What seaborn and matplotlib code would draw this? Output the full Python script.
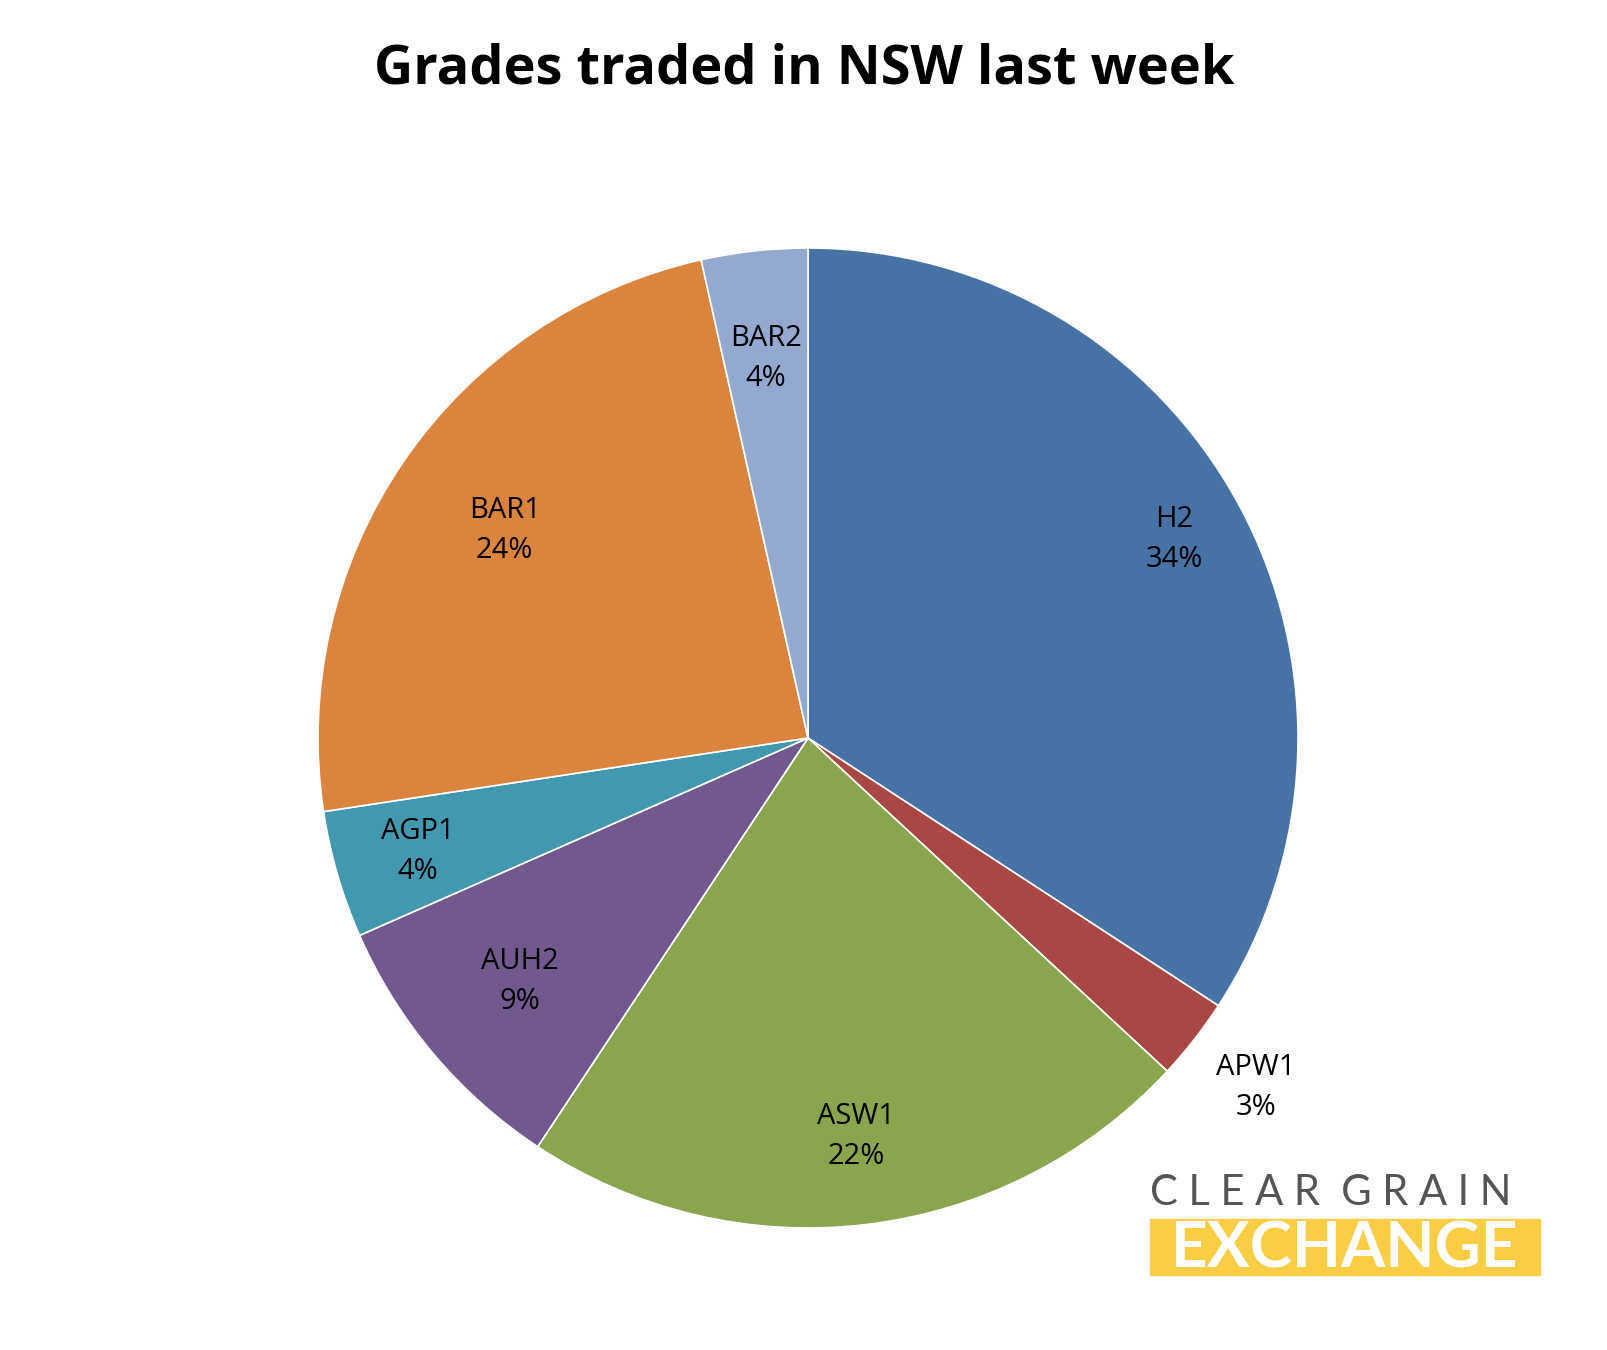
import numpy as np
import matplotlib
matplotlib.use("Agg")
import matplotlib.pyplot as plt
import seaborn as sns

sns.set_theme(style="white")
plt.rcParams['font.family'] = ['Open Sans', 'DejaVu Sans']

grades = ["H2", "APW1", "ASW1", "AUH2", "AGP1", "BAR1", "BAR2"]
shares = [34.2, 2.7, 22.4, 9.1, 4.2, 23.9, 3.5]
pct_labels = ["34%", "3%", "22%", "9%", "4%", "24%", "4%"]
colors = ["#4672A6", "#A94744", "#89A54E", "#71588F", "#4198AF", "#DB843D", "#93A9CF"]
label_r = [0.85, 1.16, 0.82, 0.77, 0.83, 0.75, 0.78]

fig = plt.figure(figsize=(16.08, 13.5), dpi=100)
ax = fig.add_axes([0, 0, 1, 1])

cx, cy, R = 808, 1350 - 738, 490
ax.pie(shares, colors=colors, startangle=90, counterclock=False,
       center=(cx, cy), radius=R, frame=True,
       wedgeprops=dict(linewidth=1.2, edgecolor="white"))
ax.set_xlim(0, 1608)
ax.set_ylim(0, 1350)
ax.axis("off")

total = sum(shares)
cum = 0
for g, s, p, r in zip(grades, shares, pct_labels, label_r):
    mid = 90 - 360 * (cum + s / 2) / total
    cum += s
    x = cx + r * R * np.cos(np.radians(mid))
    y = cy + r * R * np.sin(np.radians(mid))
    ax.text(x, y, f"{g}\n{p}", ha="center", va="center", fontsize=21,
            color="black", linespacing=1.5)

fig.text(0.5, 1 - 70 / 1350, "Grades traded in NSW last week", ha="center",
         va="center", fontsize=39, fontweight="bold", color="black")

# logo
fig.text(1150 / 1608, 1 - 1193 / 1350, "C L E A R  G R A I N", ha="left", va="center",
         fontsize=30, color="#555555", family=["Lato", "DejaVu Sans"])
fig.patches.append(plt.Rectangle((1150 / 1608, 1 - 1275 / 1350), 390 / 1608, 56 / 1350,
                                 transform=fig.transFigure, color="#F9CE45"))
fig.text(1345 / 1608, 1 - 1249 / 1350, "EXCHANGE", ha="center", va="center",
         fontsize=46, fontweight="bold", color="white", family=["Lato", "DejaVu Sans"])

fig.savefig("out.png", dpi=100, facecolor="white")
